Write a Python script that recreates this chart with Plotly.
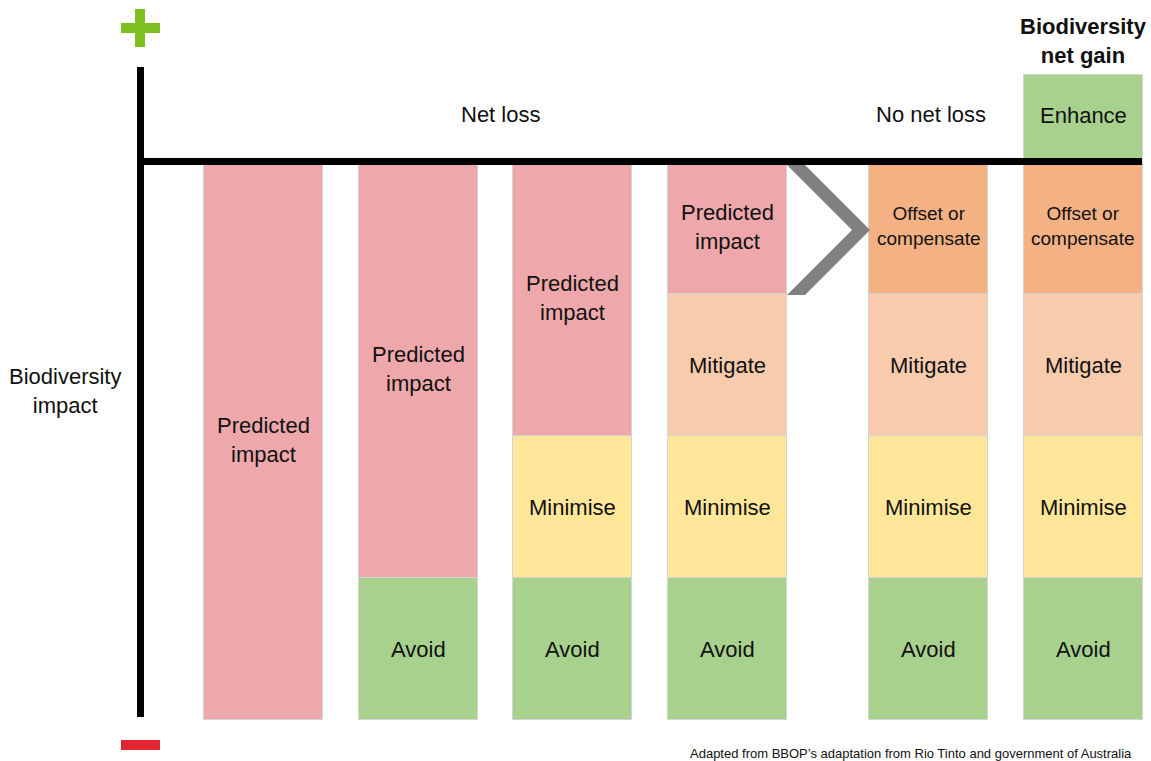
import plotly.graph_objects as go

# ---- data ----
columns = ["Predicted impact", "Avoid", "Minimise", "Mitigate", "Offset", "Enhance"]
column_x = [1, 2, 3, 4, 5.304, 6.304]
avoid = [None, 1, 1, 1, 1, 1]
minimise = [None, None, 1, 1, 1, 1]
mitigate = [None, None, None, 1, 1, 1]
predicted = [3.92, 2.92, 1.92, 0.92, None, None]
offset = [None, None, None, None, 0.92, 0.92]
enhance = [None, None, None, None, None, 0.62]

series = [
    ("Avoid", avoid, "#A9D18E", "Avoid", 22, 0),
    ("Minimise", minimise, "#FFE699", "Minimise", 22, 0),
    ("Mitigate", mitigate, "#F8CBAD", "Mitigate", 22, 0),
    ("Predicted impact", predicted, "#EEA8AB", "Predicted<br>impact", 22, 2),
    ("Offset or compensate", offset, "#F4B183", "Offset or<br>compensate", 19, 3),
    ("Enhance", enhance, "#A9D18E", "Enhance", 22, 4),
]

W, H = 1151, 761
FONT = "Liberation Sans, Arial, sans-serif"


def px(x):
    return x / W


def py(y):
    return 1 - y / H


fig = go.Figure()
annotations = []
cum = [0.0] * len(column_x)
for name, vals, color, label, fs, shift in series:
    fig.add_trace(go.Bar(
        x=column_x, y=vals, name=name, width=0.77,
        marker=dict(color=color, line=dict(color="#D4D4D4", width=1)),
        hoverinfo="name+y", showlegend=False,
    ))
    for i, v in enumerate(vals):
        if v is None:
            continue
        annotations.append(dict(
            x=column_x[i], y=cum[i] + v / 2, xref="x", yref="y",
            text=label, showarrow=False, yshift=shift,
            font=dict(family=FONT, size=fs, color="#111111"),
        ))
        cum[i] += v

texts = [
    ("Net loss", 500, 115, 22, "center"),
    ("No net loss", 931, 115, 22, "center"),
    ("<b>Biodiversity<br>net gain</b>", 1083, 41, 22, "center"),
    ("Biodiversity<br>impact", 65, 391, 22, "center"),
]
for t, x, y, fs, anc in texts:
    annotations.append(dict(
        x=px(x), y=py(y), xref="paper", yref="paper", text=t, showarrow=False,
        xanchor=anc, yanchor="middle",
        font=dict(family=FONT, size=fs, color="#111111"),
    ))
annotations.append(dict(
    x=px(1134), y=py(753), xref="paper", yref="paper",
    text="Adapted from BBOP\u2019s adaptation from Rio Tinto and government of Australia",
    showarrow=False, xanchor="right", yanchor="middle",
    font=dict(family=FONT, size=13, color="#111111"),
))

shapes = [
    # chevron
    dict(type="path", xref="paper", yref="paper",
         path=f"M {px(787)},{py(165)} L {px(805)},{py(165)} L {px(870)},{py(230)} "
              f"L {px(805)},{py(295)} L {px(787)},{py(295)} L {px(852)},{py(230)} Z",
         fillcolor="#808080", line=dict(width=0)),
    # axes
    dict(type="line", xref="paper", yref="paper", x0=px(140.5), x1=px(140.5),
         y0=py(67), y1=py(717), line=dict(color="black", width=7)),
    dict(type="line", xref="paper", yref="paper", x0=px(137), x1=px(1142),
         y0=py(161.5), y1=py(161.5), line=dict(color="black", width=7)),
    # plus
    dict(type="rect", xref="paper", yref="paper", x0=px(121), x1=px(160),
         y0=py(23), y1=py(33), fillcolor="#7CC022", line=dict(width=0)),
    dict(type="rect", xref="paper", yref="paper", x0=px(135), x1=px(145),
         y0=py(9), y1=py(47), fillcolor="#7CC022", line=dict(width=0)),
    # minus
    dict(type="rect", xref="paper", yref="paper", x0=px(121), x1=px(160),
         y0=py(740), y1=py(750), fillcolor="#E0262E", line=dict(width=0)),
]

fig.update_layout(
    width=W, height=H, autosize=False,
    margin=dict(l=0, r=0, t=0, b=0, pad=0),
    barmode="stack", bargap=0,
    plot_bgcolor="white", paper_bgcolor="white",
    xaxis=dict(range=[-0.7055, 6.744], visible=False, fixedrange=True),
    yaxis=dict(range=[-0.2887, 5.0704], visible=False, fixedrange=True),
    annotations=annotations, shapes=shapes,
    font=dict(family=FONT),
)

fig.write_html(
    "out.html",
    config={"displayModeBar": False},
    post_script="document.body.style.margin='0';document.body.style.overflow='hidden';",
)
